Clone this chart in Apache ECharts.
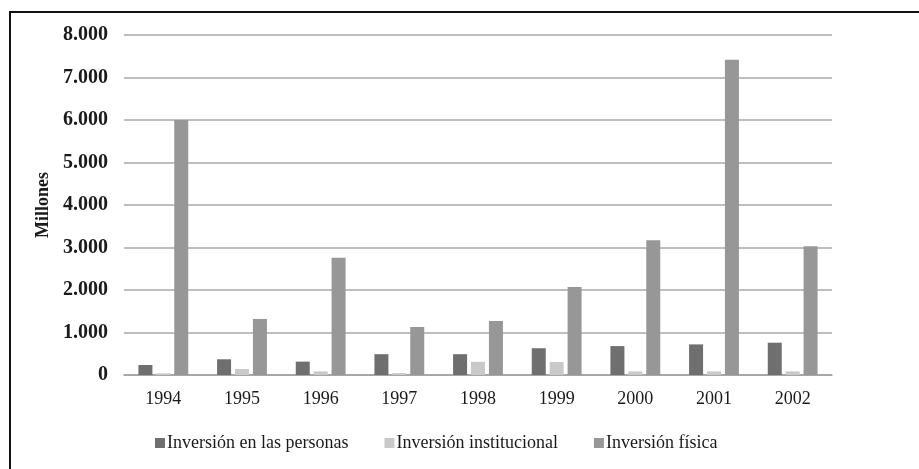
<!DOCTYPE html>
<html>
<head>
<meta charset="utf-8">
<script src="https://cdn.jsdelivr.net/npm/echarts@6/dist/echarts.min.js"></script>
<style>
html, body { margin: 0; padding: 0; background: #fff; }
#wrap { position: relative; width: 919px; height: 469px; }
#chart { width: 919px; height: 469px; }
.frame {
    position: absolute; left: 9px; top: 11px; right: 0; bottom: 0;
    border-left: 2px solid #111; border-top: 2px solid #111;
    pointer-events: none;
}
</style>
</head>
<body>
<div id="wrap">
    <div id="chart"></div>
    <div class="frame"></div>
</div>
<script>
// años y valores (millones)
const years = ['1994', '1995', '1996', '1997', '1998', '1999', '2000', '2001', '2002'];
const personas = [235, 370, 315, 490, 490, 630, 680, 720, 760];
const institucional = [40, 140, 85, 45, 310, 305, 85, 85, 85];
const fisica = [6000, 1320, 2760, 1130, 1270, 2070, 3170, 7420, 3030];
const seriesNames = ['Inversión en las personas', 'Inversión institucional', 'Inversión física'];
const yTicks = [0, 1000, 2000, 3000, 4000, 5000, 6000, 7000, 8000];

const serif = '"Liberation Serif", "DejaVu Serif", serif';

var chart = echarts.init(document.getElementById('chart'));

function fmt(v) {
    // separador de miles con punto
    return String(v).replace(/\B(?=(\d{3})+(?!\d))/g, '.');
}

var option = {
    animation: false,
    grid: { left: 124, right: 87, top: 35, bottom: 94 },
    legend: {
        top: 429,
        left: 150,
        itemWidth: 10,
        itemHeight: 10,
        itemGap: 36,
        icon: 'rect',
        textStyle: { fontFamily: serif, fontSize: 18, color: '#1a1a1a', padding: [0, 0, 0, -3] },
        data: seriesNames
    },
    xAxis: {
        type: 'category',
        data: years,
        axisTick: { show: false },
        axisLine: { lineStyle: { color: '#a0a0a0', width: 1.5 } },
        axisLabel: { fontFamily: serif, fontSize: 18, color: '#1a1a1a', margin: 15 }
    },
    yAxis: {
        type: 'value',
        min: yTicks[0],
        max: yTicks[yTicks.length - 1],
        interval: 1000,
        name: 'Millones',
        nameLocation: 'middle',
        nameGap: 70,
        nameRotate: 90,
        nameTextStyle: { fontFamily: serif, fontSize: 18, fontWeight: 'bold', color: '#1a1a1a' },
        axisLabel: { fontFamily: serif, fontSize: 20, fontWeight: 'bold', color: '#1a1a1a', margin: 16, formatter: fmt },
        splitLine: { lineStyle: { color: '#a8a8a8', width: 1.5 } },
        axisLine: { show: false },
        axisTick: { show: false }
    },
    series: [
        { name: seriesNames[0], type: 'bar', data: personas, barWidth: 14, barGap: '28%', itemStyle: { color: '#6f6f6f' } },
        { name: seriesNames[1], type: 'bar', data: institucional, barWidth: 14, barGap: '28%', itemStyle: { color: '#c9c9c9' } },
        { name: seriesNames[2], type: 'bar', data: fisica, barWidth: 14, barGap: '28%', itemStyle: { color: '#979797' } }
    ]
};

chart.setOption(option);
</script>
</body>
</html>
